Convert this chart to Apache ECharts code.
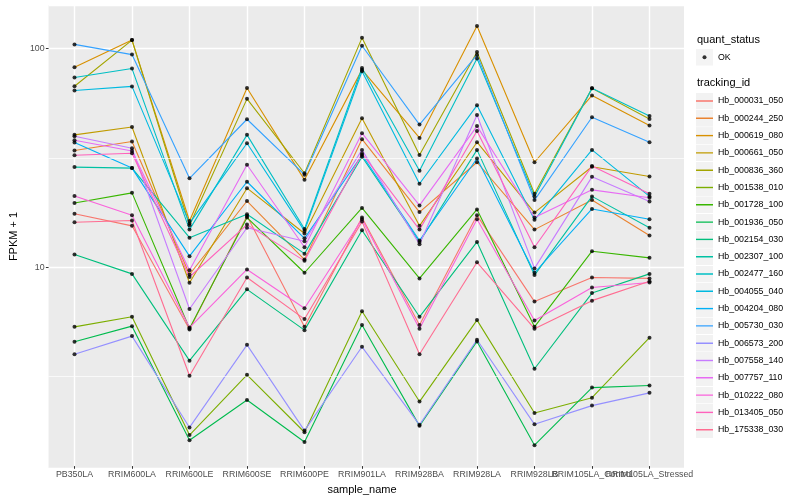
<!DOCTYPE html>
<html><head><meta charset="utf-8">
<script src="https://cdn.jsdelivr.net/npm/echarts@6/dist/echarts.min.js"></script>
<style>html,body{margin:0;padding:0;background:#fff}#c{width:800px;height:500px}</style>
</head><body><div id="c"></div>
<script>
const samples = ['PB350LA','RRIM600LA','RRIM600LE','RRIM600SE','RRIM600PE','RRIM901LA','RRIM928BA','RRIM928LA','RRIM928LB','RRIM105LA_Control','RRIM105LA_Stressed'];
const trackingIds = ['Hb_000031_050','Hb_000244_250','Hb_000619_080','Hb_000661_050','Hb_000836_360','Hb_001538_010','Hb_001728_100','Hb_001936_050','Hb_002154_030','Hb_002307_100','Hb_002477_160','Hb_004055_040','Hb_004204_080','Hb_005730_030','Hb_006573_200','Hb_007558_140','Hb_007757_110','Hb_010222_080','Hb_013405_050','Hb_175338_030'];
const colors = ['#F8766D','#EA8331','#D89000','#C09B00','#A3A500','#7CAE00','#39B600','#00BB4E','#00BF7D','#00C1A3','#00BFC4','#00BAE0','#00B0F6','#35A2FF','#9590FF','#C77CFF','#E76BF3','#FA62DB','#FF62BC','#FF6C91'];

// FPKM + 1 per sample (order of samples)
const Hb_000031_050 = [17.4, 15.3, 5.11, 17.0, 5.25, 16.7, 5.36, 17.1, 6.86, 8.85, 8.77];
const Hb_000244_250 = [34.0, 37.4, 9.14, 19.9, 10.7, 38.3, 17.7, 30.0, 14.7, 20.1, 13.8];
const Hb_000619_080 = [82, 109.4, 16.1, 65.8, 24.9, 80, 38.8, 127, 30.0, 60.9, 44.3];
const Hb_000661_050 = [40.1, 43.6, 8.38, 22.8, 14.1, 47.8, 15.3, 37.1, 17.6, 28.6, 25.8];
const Hb_000836_360 = [67.1, 109.4, 15.4, 58.7, 26.7, 112, 32.4, 96.4, 21.5, 65.6, 47.4];
const Hb_001538_010 = [5.25, 5.84, 1.67, 3.16, 1.72, 6.19, 2.38, 5.64, 2.11, 2.48, 4.68];
const Hb_001728_100 = [19.5, 21.7, 5.16, 16.7, 9.31, 18.5, 8.77, 18.2, 5.25, 11.7, 10.9];
const Hb_001936_050 = [4.48, 5.29, 1.58, 2.42, 1.55, 5.35, 1.84, 4.5, 1.50, 2.76, 2.82];
const Hb_002154_030 = [11.3, 9.2, 3.67, 7.81, 5.07, 14.6, 5.84, 12.9, 3.37, 7.51, 9.2];
const Hb_002307_100 = [28.5, 28.2, 13.5, 17.3, 11.4, 31.8, 12.9, 34.2, 9.08, 20.9, 15.0];
const Hb_002477_160 = [73.6, 80.9, 14.7, 40.1, 14.8, 81.4, 27.4, 90, 20.9, 65.6, 49];
const Hb_004055_040 = [64.1, 67.0, 15.7, 36.7, 14.5, 78.6, 23.9, 54.8, 16.3, 34.2, 20.9];
const Hb_004204_080 = [37.0, 28.2, 11.1, 24.4, 13.4, 32.4, 13.1, 31.2, 9.31, 18.3, 16.4];
const Hb_005730_030 = [104.5, 93.8, 25.3, 47.3, 26.3, 103, 44.7, 93.5, 20.1, 48.3, 37.1];
const Hb_006573_200 = [3.93, 4.76, 1.81, 4.34, 1.75, 4.25, 1.86, 4.58, 1.87, 2.28, 2.61];
const Hb_007558_140 = [39.5, 34.8, 6.34, 15.0, 13.0, 34.2, 12.6, 49.5, 9.75, 25.7, 19.8];
const Hb_007757_110 = [37.9, 33.8, 9.56, 29.2, 12.2, 40.8, 19.0, 44.0, 16.7, 22.4, 20.6];
const Hb_010222_080 = [21.0, 17.1, 5.21, 9.64, 6.39, 16.4, 5.14, 16.4, 5.61, 7.96, 8.4];
const Hb_013405_050 = [32.3, 33.0, 8.9, 15.5, 10.56, 32.9, 14.7, 41.8, 12.2, 28.8, 21.5];
const Hb_175338_030 = [15.9, 16.2, 3.13, 8.86, 5.7, 16.0, 3.93, 10.4, 5.15, 6.93, 8.5];

const seriesValues = [Hb_000031_050, Hb_000244_250, Hb_000619_080, Hb_000661_050, Hb_000836_360, Hb_001538_010, Hb_001728_100, Hb_001936_050, Hb_002154_030, Hb_002307_100, Hb_002477_160, Hb_004055_040, Hb_004204_080, Hb_005730_030, Hb_006573_200, Hb_007558_140, Hb_007757_110, Hb_010222_080, Hb_013405_050, Hb_175338_030];
const quantStatus = ['OK'];
const minorBreaks = [3.1623, 31.623];
const yMin = 1.2017, yMax = 158.6;

const FONT = '"Liberation Sans", Arial, Helvetica, sans-serif';
function keyIcon(color) {
  const svg = '<svg xmlns="http://www.w3.org/2000/svg" width="17" height="17"><rect width="17" height="17" fill="#F2F2F2"/><line x1="0" y1="8.5" x2="17" y2="8.5" stroke="' + color + '" stroke-width="1.4"/></svg>';
  return 'image://data:image/svg+xml;charset=utf-8,' + encodeURIComponent(svg);
}
function dotIcon() {
  const svg = '<svg xmlns="http://www.w3.org/2000/svg" width="17" height="17"><rect width="17" height="17" fill="#F2F2F2"/><circle cx="8.5" cy="8.5" r="2" fill="#000"/></svg>';
  return 'image://data:image/svg+xml;charset=utf-8,' + encodeURIComponent(svg);
}

const lineSeries = trackingIds.map((id, i) => ({
  name: id, type: 'line', xAxisIndex: 1, yAxisIndex: 1,
  data: seriesValues[i], showSymbol: false, symbol: 'none',
  lineStyle: { color: colors[i], width: 1.1 }, itemStyle: { color: colors[i] },
  z: 2, silent: true
}));
const points = [];
seriesValues.forEach(arr => arr.forEach((v, j) => points.push([samples[j], v])));

const chart = echarts.init(document.getElementById('c'), null, { renderer: 'canvas' });
chart.setOption({
  animation: false,
  backgroundColor: '#fff',
  textStyle: { fontFamily: FONT },
  title: [
    { text: 'quant_status', left: 697, top: 34, padding: 0, textStyle: { fontSize: 11, fontWeight: 'normal', color: '#000', fontFamily: FONT } },
    { text: 'tracking_id', left: 697, top: 77.5, padding: 0, textStyle: { fontSize: 11, fontWeight: 'normal', color: '#000', fontFamily: FONT } }
  ],
  legend: [
    { orient: 'vertical', left: 696, top: 48.8, padding: 0, itemWidth: 17, itemHeight: 17, itemGap: 0.3, selectedMode: false,
      textStyle: { fontSize: 8.8, color: '#000', fontFamily: FONT },
      data: quantStatus.map(q => ({ name: q, icon: dotIcon() })) },
    { orient: 'vertical', left: 696, top: 92.5, padding: 0, itemWidth: 17, itemHeight: 17, itemGap: 0.3, selectedMode: false,
      textStyle: { fontSize: 8.8, color: '#000', fontFamily: FONT },
      data: trackingIds.map((id, i) => ({ name: id, icon: keyIcon(colors[i]) })) }
  ],
  grid: [
    { left: 40, top: 5, width: 644, height: 463, show: true, backgroundColor: '#EBEBEB', borderWidth: 0 },
    { left: 74.5, top: 5, width: 575, height: 463, show: false }
  ],
  xAxis: [
    { type: 'value', gridIndex: 0, min: 0, max: 1, show: false },
    { type: 'category', gridIndex: 1, data: samples, boundaryGap: false,
      axisLine: { show: false },
      axisTick: { show: true, length: 2.7, lineStyle: { color: '#333', width: 1 } },
      axisLabel: { interval: 0, fontSize: 8.8, color: '#4D4D4D', margin: 4, fontFamily: FONT, hideOverlap: false },
      splitLine: { show: true, lineStyle: { color: '#fff', width: 1.4 } },
      name: 'sample_name', nameLocation: 'middle', nameGap: 13.5,
      nameTextStyle: { fontSize: 11, color: '#000', fontFamily: FONT } }
  ],
  yAxis: [
    { type: 'log', logBase: 10, gridIndex: 0, min: yMin, max: yMax,
      axisLine: { show: false },
      axisTick: { show: true, length: 2.7, lineStyle: { color: '#333', width: 1 } },
      axisLabel: { fontSize: 8.8, color: '#4D4D4D', margin: 4, showMinLabel: false, showMaxLabel: false, fontFamily: FONT },
      splitLine: { show: true, lineStyle: { color: '#fff', width: 1.4 } },
      name: 'FPKM + 1', nameLocation: 'middle', nameGap: 22, nameRotate: 90,
      nameTextStyle: { fontSize: 11, color: '#000', fontFamily: FONT } },
    { type: 'log', logBase: 10, gridIndex: 1, min: yMin, max: yMax, show: false, splitLine: { show: false } }
  ],
  series: [
    { name: '_minor', type: 'line', xAxisIndex: 0, yAxisIndex: 0, data: [], z: 1, silent: true,
      markLine: { silent: true, symbol: 'none', label: { show: false },
        lineStyle: { color: '#fff', width: 0.7, type: 'solid' },
        data: minorBreaks.map(v => ({ yAxis: v })) } },
    ...lineSeries,
    { name: 'OK', type: 'scatter', xAxisIndex: 1, yAxisIndex: 1, data: points,
      symbol: 'circle', symbolSize: 4, itemStyle: { color: '#000' }, z: 5, silent: true }
  ]
});
</script></body></html>
